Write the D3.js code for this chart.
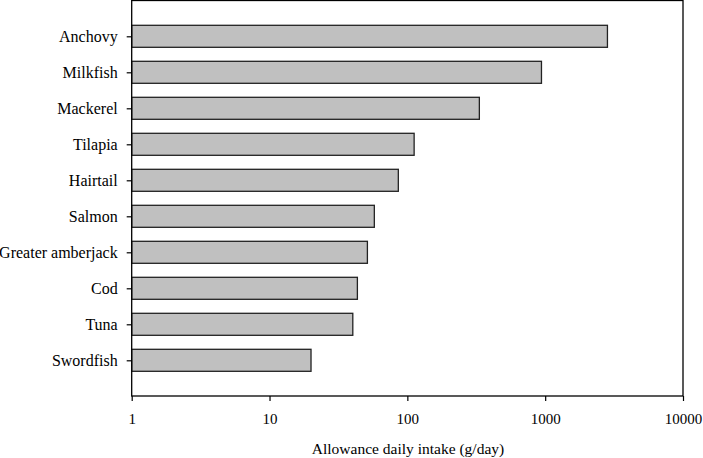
<!DOCTYPE html>
<html><head><meta charset="utf-8">
<script src="https://cdn.jsdelivr.net/npm/d3@7"></script>
<style>body{margin:0;background:#fff}svg{display:block}</style>
</head><body><div id="c"></div>
<script>
const categories = ["Anchovy","Milkfish","Mackerel","Tilapia","Hairtail","Salmon","Greater amberjack","Cod","Tuna","Swordfish"];
const values = [2830, 940, 333, 112, 86, 57.6, 51.3, 43.4, 40.2, 20.0];
const xTicks = [1, 10, 100, 1000, 10000];
const xTitle = "Allowance daily intake (g/day)";

(function(){
const W = 703, H = 458;
const mLeft = 131.7, mRight = 683, mTop = 0.5, mBottom = 396;
const FONT = "'Liberation Serif', 'Times New Roman', serif";
const svg = d3.select("#c").append("svg").attr("width", W).attr("height", H);

const x = d3.scaleLog().domain([1, 10000]).range([mLeft, mRight]);
const y = d3.scalePoint().domain(categories).range([36.3, 360.3]);
const barH = 22;

svg.selectAll("rect.bar").data(categories).enter().append("rect")
  .attr("class","bar")
  .attr("x", x(1))
  .attr("y", d => y(d) - barH/2)
  .attr("width", (d,i) => x(values[i]) - x(1))
  .attr("height", barH)
  .attr("fill", "#c0c0c0")
  .attr("stroke", "#222")
  .attr("stroke-width", 1.3);

svg.append("rect").attr("x", mLeft).attr("y", mTop).attr("width", mRight-mLeft).attr("height", mBottom-mTop)
  .attr("fill","none").attr("stroke","#000").attr("stroke-width",1.3);

const xAxis = svg.append("g").attr("transform", `translate(0,${mBottom})`)
  .call(d3.axisBottom(x).tickValues(xTicks).tickFormat(d3.format("d")).tickSize(5).tickPadding(12));
xAxis.select(".domain").remove();
xAxis.selectAll("line").attr("stroke","#000").attr("stroke-width",1.2);
xAxis.selectAll("text").style("font-size","15px").style("font-family",FONT).attr("fill","#000");

const yAxis = svg.append("g").attr("transform", `translate(${mLeft},0)`)
  .call(d3.axisLeft(y).tickSize(5).tickPadding(9));
yAxis.select(".domain").remove();
yAxis.selectAll("line").attr("stroke","#000").attr("stroke-width",1.2);
yAxis.selectAll("text").style("font-size","16px").style("font-family",FONT).attr("fill","#000");

svg.append("text").attr("x", 408).attr("y", 454).attr("text-anchor","middle")
  .style("font-size","15.5px").style("font-family",FONT).attr("fill","#000").text(xTitle);
})();
</script></body></html>
